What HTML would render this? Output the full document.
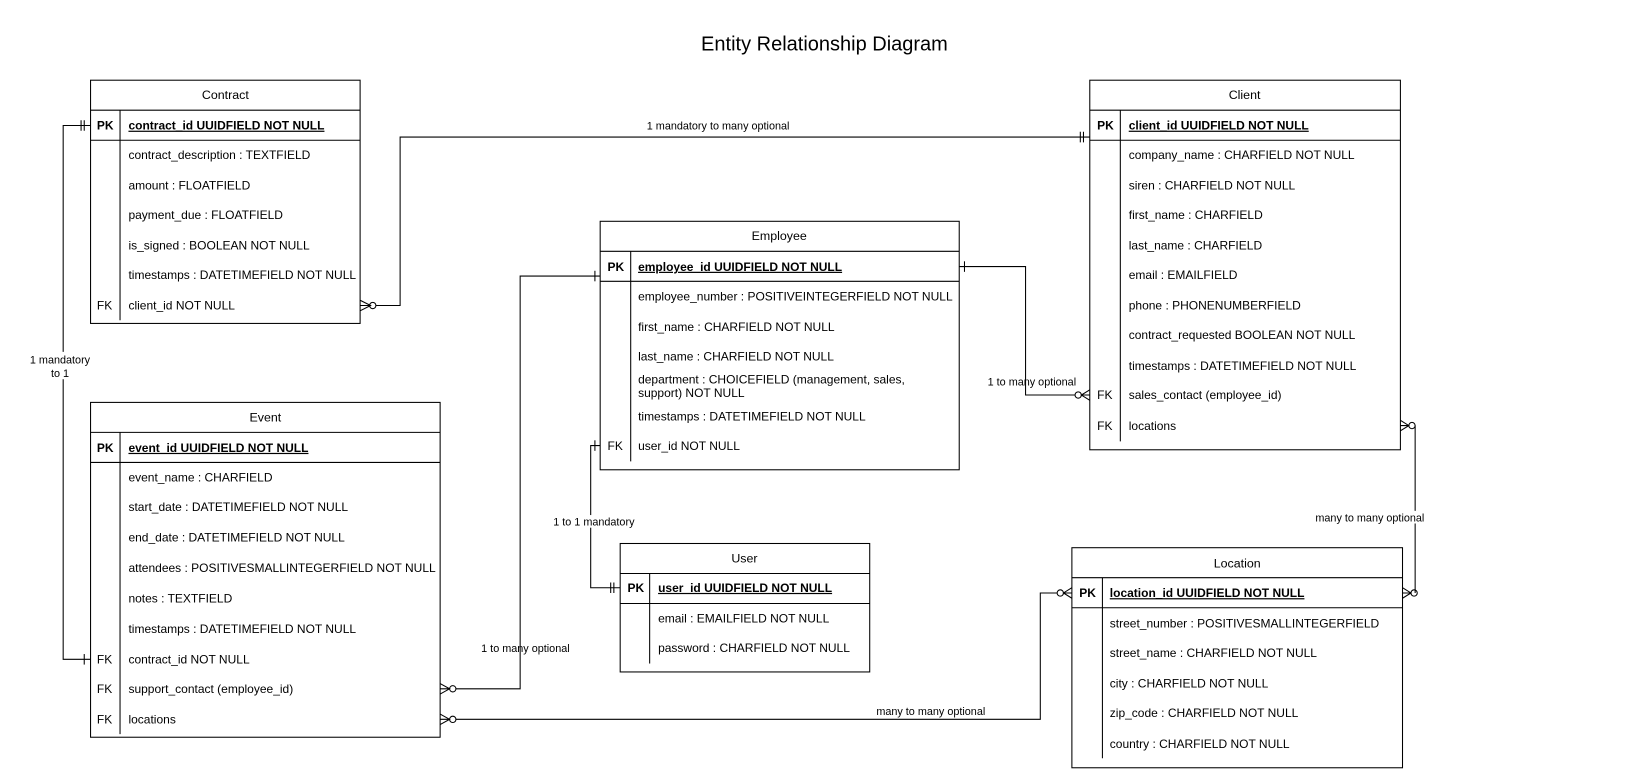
<!DOCTYPE html>
<html><head><meta charset="utf-8"><style>
html,body{margin:0;padding:0;background:#fff;}
svg{display:block;}
text{font-family:"Liberation Sans",Arial,sans-serif;font-size:11.4px;fill:#000;}
.t{text-anchor:middle;font-size:11.8px;}
.pk{font-weight:bold;text-decoration:underline;}
.k{font-weight:bold;}
.lb{font-size:10.3px;text-anchor:middle;}
</style></head><body>
<svg width="1651" height="769" viewBox="0 0 1568 730" xmlns="http://www.w3.org/2000/svg">
<rect width="1568" height="730" fill="#fff"/>
<text x="783" y="48" style="font-size:19px;text-anchor:middle">Entity Relationship Diagram</text>

<g fill="none" stroke="#000" stroke-width="1">
<rect x="86" y="76" width="256" height="231"/>
<line x1="86" y1="104.5" x2="342" y2="104.5"/><line x1="86" y1="133" x2="342" y2="133"/>
<line x1="114" y1="104.5" x2="114" y2="304"/>
<rect x="1035" y="76" width="295" height="351"/>
<line x1="1035" y1="104.5" x2="1330" y2="104.5"/><line x1="1035" y1="133" x2="1330" y2="133"/>
<line x1="1064" y1="104.5" x2="1064" y2="419"/>
<rect x="570" y="210" width="341" height="236"/>
<line x1="570" y1="238.5" x2="911" y2="238.5"/><line x1="570" y1="267" x2="911" y2="267"/>
<line x1="599" y1="238.5" x2="599" y2="438"/>
<rect x="86" y="382" width="332" height="318"/>
<line x1="86" y1="410.5" x2="418" y2="410.5"/><line x1="86" y1="439" x2="418" y2="439"/>
<line x1="114" y1="410.5" x2="114" y2="697"/>
<rect x="589" y="516" width="237" height="122"/>
<line x1="589" y1="544.5" x2="826" y2="544.5"/><line x1="589" y1="573" x2="826" y2="573"/>
<line x1="617" y1="544.5" x2="617" y2="630"/>
<rect x="1018" y="520" width="314" height="209"/>
<line x1="1018" y1="548.5" x2="1332" y2="548.5"/><line x1="1018" y1="577" x2="1332" y2="577"/>
<line x1="1047" y1="548.5" x2="1047" y2="720"/>

<path d="M342 285 L352 290 L342 295 M342 290 L352 290"/><circle cx="354" cy="290" r="3"/>
<path d="M357 290 H380 V130 H1035"/>
<path d="M1026 125 V135 M1029 125 V135"/>
<path d="M86 119 H60 V626 H86"/>
<path d="M77 114 V124 M80 114 V124"/>
<path d="M80 621 V631"/>
<path d="M911 253 H974 V375 H1021"/>
<path d="M916 248 V258"/>
<circle cx="1024" cy="375" r="3"/><path d="M1035 370 L1027 375 L1035 380 M1027 375 H1035"/>
<path d="M418 649 L427 654 L418 659 M418 654 H427"/><circle cx="430" cy="654" r="3"/>
<path d="M433 654 H494 V262 H570"/>
<path d="M565 257 V267"/>
<path d="M570 423 H561 V558 H589"/>
<path d="M565 418 V428"/>
<path d="M580 553 V563 M583 553 V563"/>
<path d="M1330 399 L1338 404 L1330 409 M1330 404 H1338"/><circle cx="1341" cy="404" r="3"/>
<path d="M1344 404 V563"/>
<circle cx="1343" cy="563" r="3"/><path d="M1332 558 L1340 563 L1332 568 M1332 563 H1340"/>
<path d="M418 678 L427 683 L418 688 M418 683 H427"/><circle cx="430" cy="683" r="3"/>
<path d="M433 683 H988 V563 H1004"/>
<circle cx="1007" cy="563" r="3"/><path d="M1018 558 L1010 563 L1018 568 M1010 563 H1018"/>
</g>

<g fill="#fff">
<rect x="26" y="334" width="62" height="26"/>
<rect x="524" y="489" width="80" height="12"/>
<rect x="1250" y="485" width="104" height="12"/>
</g>
<text class="lb" x="682" y="123">1 mandatory to many optional</text>
<text class="lb" x="57" y="345">1 mandatory</text>
<text class="lb" x="57" y="358">to 1</text>
<text class="lb" x="980" y="366">1 to many optional</text>
<text class="lb" x="499" y="619">1 to many optional</text>
<text class="lb" x="564" y="499">1 to 1 mandatory</text>
<text class="lb" x="1301" y="495">many to many optional</text>
<text class="lb" x="884" y="679">many to many optional</text>

<text class="t" x="214" y="94">Contract</text>
<text class="k" x="92" y="123">PK</text><text class="pk" x="122" y="123">contract_id UUIDFIELD NOT NULL</text>
<text x="122" y="151">contract_description : TEXTFIELD</text>
<text x="122" y="180">amount : FLOATFIELD</text>
<text x="122" y="208">payment_due : FLOATFIELD</text>
<text x="122" y="237">is_signed : BOOLEAN NOT NULL</text>
<text x="122" y="265">timestamps : DATETIMEFIELD NOT NULL</text>
<text x="92" y="294">FK</text><text x="122" y="294">client_id NOT NULL</text>

<text class="t" x="1182" y="94">Client</text>
<text class="k" x="1042" y="123">PK</text><text class="pk" x="1072" y="123">client_id UUIDFIELD NOT NULL</text>
<text x="1072" y="151">company_name : CHARFIELD NOT NULL</text>
<text x="1072" y="180">siren : CHARFIELD NOT NULL</text>
<text x="1072" y="208">first_name : CHARFIELD</text>
<text x="1072" y="237">last_name : CHARFIELD</text>
<text x="1072" y="265">email : EMAILFIELD</text>
<text x="1072" y="294">phone : PHONENUMBERFIELD</text>
<text x="1072" y="322">contract_requested BOOLEAN NOT NULL</text>
<text x="1072" y="351">timestamps : DATETIMEFIELD NOT NULL</text>
<text x="1042" y="379">FK</text><text x="1072" y="379">sales_contact (employee_id)</text>
<text x="1042" y="408">FK</text><text x="1072" y="408">locations</text>

<text class="t" x="740" y="228">Employee</text>
<text class="k" x="577" y="257">PK</text><text class="pk" x="606" y="257">employee_id UUIDFIELD NOT NULL</text>
<text x="606" y="285">employee_number : POSITIVEINTEGERFIELD NOT NULL</text>
<text x="606" y="314">first_name : CHARFIELD NOT NULL</text>
<text x="606" y="342">last_name : CHARFIELD NOT NULL</text>
<text x="606" y="364">department : CHOICEFIELD (management, sales,</text>
<text x="606" y="377">support) NOT NULL</text>
<text x="606" y="399">timestamps : DATETIMEFIELD NOT NULL</text>
<text x="577" y="427">FK</text><text x="606" y="427">user_id NOT NULL</text>

<text class="t" x="252" y="400">Event</text>
<text class="k" x="92" y="429">PK</text><text class="pk" x="122" y="429">event_id UUIDFIELD NOT NULL</text>
<text x="122" y="457">event_name : CHARFIELD</text>
<text x="122" y="485">start_date : DATETIMEFIELD NOT NULL</text>
<text x="122" y="514">end_date : DATETIMEFIELD NOT NULL</text>
<text x="122" y="543">attendees : POSITIVESMALLINTEGERFIELD NOT NULL</text>
<text x="122" y="572">notes : TEXTFIELD</text>
<text x="122" y="601">timestamps : DATETIMEFIELD NOT NULL</text>
<text x="92" y="630">FK</text><text x="122" y="630">contract_id NOT NULL</text>
<text x="92" y="658">FK</text><text x="122" y="658">support_contact (employee_id)</text>
<text x="92" y="687">FK</text><text x="122" y="687">locations</text>

<text class="t" x="707" y="534">User</text>
<text class="k" x="596" y="562">PK</text><text class="pk" x="625" y="562">user_id UUIDFIELD NOT NULL</text>
<text x="625" y="591">email : EMAILFIELD NOT NULL</text>
<text x="625" y="619">password : CHARFIELD NOT NULL</text>

<text class="t" x="1175" y="539">Location</text>
<text class="k" x="1025" y="567">PK</text><text class="pk" x="1054" y="567">location_id UUIDFIELD NOT NULL</text>
<text x="1054" y="596">street_number : POSITIVESMALLINTEGERFIELD</text>
<text x="1054" y="624">street_name : CHARFIELD NOT NULL</text>
<text x="1054" y="653">city : CHARFIELD NOT NULL</text>
<text x="1054" y="681">zip_code : CHARFIELD NOT NULL</text>
<text x="1054" y="710">country : CHARFIELD NOT NULL</text>
</svg>
</body></html>
